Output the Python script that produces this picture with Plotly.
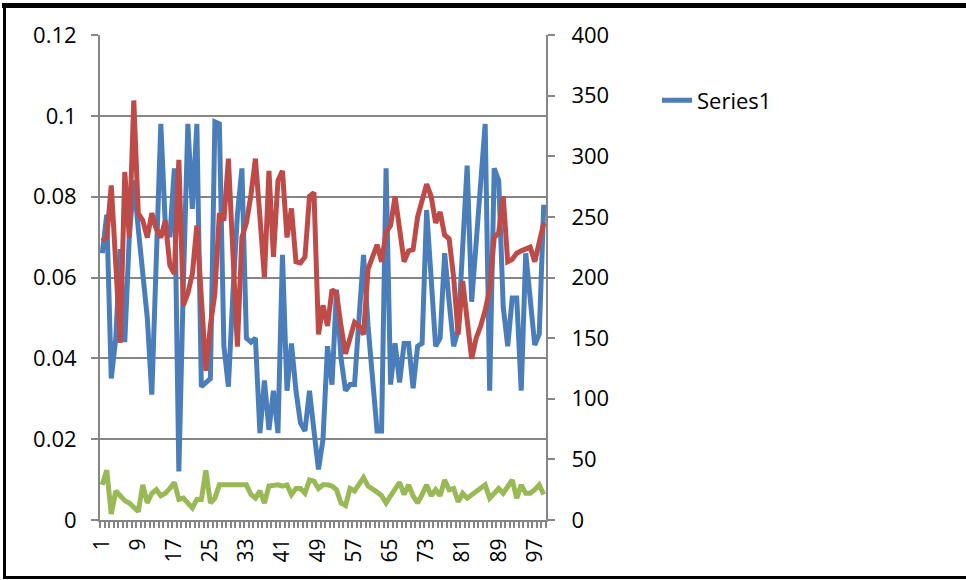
import plotly.graph_objects as go

categories = list(range(1, 100))

series1 = [0.066, 0.0755, 0.035, 0.045, 0.067, 0.044, 0.070, 0.084, 0.072, 0.060,
           0.050, 0.031, 0.066, 0.098, 0.073, 0.070, 0.087, 0.012, 0.058, 0.098,
           0.077, 0.098, 0.033, 0.034, 0.035, 0.0985, 0.098, 0.043, 0.033, 0.056,
           0.0755, 0.087, 0.045, 0.044, 0.045, 0.0215, 0.0345, 0.0223, 0.032, 0.0215,
           0.0656, 0.032, 0.0437, 0.032, 0.024, 0.022, 0.032, 0.022, 0.0125, 0.020,
           0.043, 0.0335, 0.057, 0.040, 0.032, 0.0335, 0.0335, 0.050, 0.0656, 0.048,
           0.034, 0.022, 0.022, 0.087, 0.0335, 0.0437, 0.034, 0.0437, 0.0437, 0.0326,
           0.043, 0.0437, 0.0767, 0.058, 0.043, 0.045, 0.066, 0.054, 0.043, 0.047,
           0.068, 0.0877, 0.054, 0.068, 0.083, 0.098, 0.032, 0.087, 0.084, 0.0528,
           0.043, 0.0549, 0.0549, 0.032, 0.066, 0.055, 0.0433, 0.046, 0.078]

series2 = [230, 233, 276, 207, 146, 287, 233, 346, 253, 247,
           233, 253, 240, 233, 247, 210, 203, 297, 177, 187,
           203, 243, 180, 123, 160, 187, 253, 247, 298, 220,
           143, 233, 245, 268, 298, 250, 200, 288, 217, 280,
           288, 233, 257, 213, 212, 217, 267, 270, 153, 177,
           160, 190, 187, 160, 137, 150, 163, 160, 153, 207,
           217, 227, 213, 237, 243, 267, 240, 213, 222, 223,
           250, 263, 277, 267, 245, 254, 235, 232, 200, 153,
           197, 165, 133, 150, 160, 173, 190, 233, 237, 267,
           213, 215, 220, 222, 223, 225, 213, 230, 245]

series3 = [29, 41, 5, 24, 20, 16, 14, 11, 7, 29,
           14, 22, 25, 20, 22, 26, 31, 17, 18, 14,
           10, 17, 17, 41, 14, 18, 29, 29, 29, 29,
           29, 29, 29, 21, 18, 24, 14, 28, 29, 29,
           28, 29, 21, 26, 26, 22, 33, 32, 26, 29,
           29, 28, 25, 14, 12, 26, 24, 29, 35, 28,
           26, 23, 20, 14, 20, 25, 31, 21, 29, 20,
           14, 21, 29, 20, 25, 20, 33, 25, 26, 15,
           22, 18, 21, 24, 27, 29, 18, 22, 26, 22,
           27, 33, 18, 29, 22, 22, 25, 29, 21]

x_tick_vals = list(range(1, 100, 8))
x_tick_text = [str(v) for v in x_tick_vals]

FONT = "Open Sans"
GRAY = "#868686"

fig = go.Figure()
fig.add_trace(go.Scatter(x=categories, y=series1, mode="lines", name="Series1",
                         line=dict(color="#4A7EBB", width=5), yaxis="y"))
fig.add_trace(go.Scatter(x=categories, y=series2, mode="lines", name="Series2",
                         line=dict(color="#BE4B48", width=5), yaxis="y2", showlegend=False))
fig.add_trace(go.Scatter(x=categories, y=series3, mode="lines", name="Series3",
                         line=dict(color="#98B954", width=5), yaxis="y2", showlegend=False))

W, H = 966, 580
L, R, T, B = 100, 546, 34.5, 520.5
pw, ph = R - L, B - T


def px(x):
    return (x - L) / pw


def py(y):
    return (B - y) / ph


fig.update_layout(
    width=W, height=H,
    margin=dict(l=L, r=W - R, t=T, b=H - B, pad=0),
    paper_bgcolor="white", plot_bgcolor="white",
    font=dict(family=FONT, size=22, color="black"),
    xaxis=dict(range=[0.5, 99.5], tickmode="array", tickvals=x_tick_vals,
               ticktext=x_tick_text, tickangle=-90, ticks="", showgrid=False,
               showline=True, linecolor=GRAY, linewidth=2, zeroline=False,
               tickfont=dict(size=21), ticklabelstandoff=8,
               minor=dict(ticks="outside", tickmode="linear", tick0=0.5, dtick=1,
                          ticklen=6, tickcolor=GRAY, tickwidth=1.5, showgrid=False)),
    yaxis=dict(range=[0, 0.12], dtick=0.02, tick0=0, showgrid=True,
               gridcolor=GRAY, gridwidth=2, showline=True, linecolor=GRAY,
               linewidth=2, ticks="outside", ticklen=7, tickcolor=GRAY,
               tickwidth=2, zeroline=False, ticklabelstandoff=10),
    yaxis2=dict(range=[0, 400], dtick=50, tick0=0, overlaying="y", side="right",
                showgrid=False, showline=True, linecolor=GRAY, linewidth=2,
                ticks="outside", ticklen=7, tickcolor=GRAY, tickwidth=2,
                zeroline=False, ticklabelstandoff=12),
    legend=dict(x=px(657), y=py(100), xanchor="left", yanchor="middle",
                bgcolor="rgba(0,0,0,0)", font=dict(size=22)),
    showlegend=True,
)

# chart frame
fig.add_shape(type="line", xref="paper", yref="paper", x0=px(2), x1=px(970),
              y0=py(5), y1=py(5), line=dict(color="black", width=5))
fig.add_shape(type="line", xref="paper", yref="paper", x0=px(4.5), x1=px(4.5),
              y0=py(3), y1=py(579), line=dict(color="black", width=3))
fig.add_shape(type="line", xref="paper", yref="paper", x0=px(3), x1=px(970),
              y0=py(578), y1=py(578), line=dict(color="black", width=3))

fig.write_html("out.html", config={"displayModeBar": False},
               post_script="document.body.style.margin='0';document.body.style.overflow='hidden';")
